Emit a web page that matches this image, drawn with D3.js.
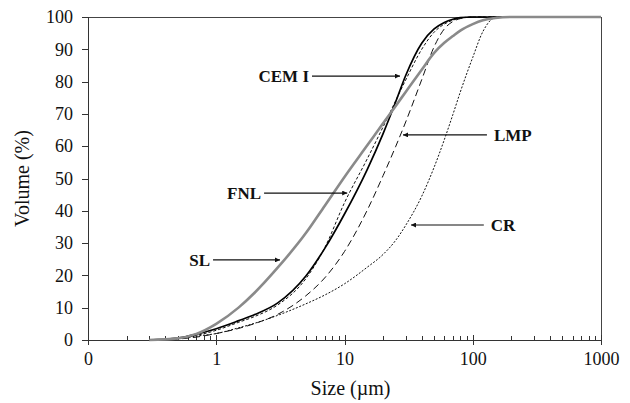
<!DOCTYPE html>
<html>
<head>
<meta charset="utf-8">
<style>
    body { margin: 0; background: #fff; }
    text { font-family: "Liberation Serif", "Times New Roman", serif; fill: #111; }
    .axis path, .axis line { stroke: #333; shape-rendering: crispEdges; }
    .curve { fill: none; }
</style>
<script src="https://d3js.org/d3.v7.min.js"></script>
</head>
<body>
<script>
    // particle size grid (um) shared by all curves
    var sizes = [0.3, 0.5, 0.7, 1, 1.5, 2, 3, 5, 7, 10, 15, 20, 25, 30, 40, 50, 60, 70, 80, 100, 120, 150, 200, 1000];

    // cumulative volume (%)
    var cemI = [0, 0.6, 1.8, 3.5, 6, 7.9, 11.4, 19.8, 28.3, 39, 52.7, 63.9, 73.6, 81.9, 91.9, 96.3, 98.3, 99.3, 99.8, 100, 100, 100, 100, 100];
    var fnl  = [0, 0.4, 1.4, 3, 5.5, 7.3, 10.8, 19, 28.5, 42.5, 56, 66, 74, 80.5, 90, 95.3, 97.8, 99, 99.7, 100, 100, 100, 100, 100];
    var lmp  = [0, 0.3, 0.9, 2, 3.6, 5.1, 7.9, 13.7, 19.2, 27.4, 40.1, 50.9, 59.8, 67.5, 80.6, 90.8, 96.3, 98.6, 99.5, 100, 100, 100, 100, 100];
    var cr   = [0, 0.4, 1.2, 2, 3.8, 5.2, 7.6, 11.2, 13.9, 17.4, 22.5, 26.5, 30.8, 35.5, 44.5, 53.5, 62, 69.8, 76.8, 87.5, 95.5, 99.8, 100, 100];
    var sl   = [0, 0.5, 1.9, 5, 10.1, 14.7, 22.3, 33.1, 41.5, 50.5, 60.2, 67.1, 72.4, 76.8, 83.7, 88.9, 92, 94.1, 95.8, 97.8, 99, 99.7, 100, 100];

    var xTicks = [0.1, 1, 10, 100, 1000];
    var xTickLabels = ["0", "1", "10", "100", "1000"];
    var yTicks = [0, 10, 20, 30, 40, 50, 60, 70, 80, 90, 100];

    // labels: text, arrow tip (size, vol), arrow tail size
    var labelNames = ["CEM I", "LMP", "FNL", "SL", "CR"];
    var tipSize = [27.1, 28.6, 10.5, 3.14, 33];
    var tipVol  = [81.7, 63.5, 45.5, 24.8, 35.6];
    var tailSize = [5.58, 129, 2.36, 0.944, 122];

    var margin = {top: 17, right: 29, bottom: 63, left: 88},
        width = 630 - margin.left - margin.right,
        height = 403 - margin.top - margin.bottom;

    var svg = d3.select("body").append("svg")
        .attr("width", 630)
        .attr("height", 403)
        .append("g")
        .attr("transform", "translate(" + margin.left + "," + margin.top + ")");

    var x = d3.scaleLog().domain([0.1, 1000]).range([0, width]);
    var y = d3.scaleLinear().domain([0, 100]).range([height, 0]);

    // frame (top and right)
    svg.append("rect")
        .attr("width", width)
        .attr("height", height)
        .attr("fill", "none")
        .attr("stroke", "#444")
        .attr("shape-rendering", "crispEdges");

    // y axis
    var yAxis = svg.append("g")
        .attr("class", "axis")
        .call(d3.axisLeft(y).tickValues(yTicks).tickSize(6).tickPadding(9));
    yAxis.selectAll("text").style("font-size", "18px");

    // x axis: major ticks cross the line, minor ticks point inwards
    var minor = [];
    for (var d = 0.1; d < 1000; d *= 10) {
        for (var k = 2; k <= 9; k++) minor.push(d * k);
    }
    svg.append("g")
        .attr("class", "axis")
        .attr("transform", "translate(0," + height + ")")
        .call(d3.axisBottom(x).tickValues(minor).tickSize(-4).tickFormat(""))
        .select(".domain").remove();
    var xAxis = svg.append("g")
        .attr("class", "axis")
        .attr("transform", "translate(0," + height + ")")
        .call(d3.axisBottom(x).tickValues(xTicks).tickSize(5).tickPadding(7)
            .tickFormat(function(d, i) { return xTickLabels[i]; }));
    xAxis.selectAll(".tick line").attr("y1", -5);
    xAxis.selectAll("text").style("font-size", "18px");

    // axis titles
    svg.append("text")
        .attr("x", width / 2 + 6)
        .attr("y", height + 55)
        .style("text-anchor", "middle")
        .style("font-size", "20px")
        .text("Size (µm)");
    svg.append("text")
        .attr("transform", "rotate(-90)")
        .attr("x", -(height / 2))
        .attr("y", -margin.left + 29)
        .style("text-anchor", "middle")
        .style("font-size", "20px")
        .text("Volume (%)");

    var line = d3.line()
        .x(function(d) { return x(d[0]); })
        .y(function(d) { return y(d[1]); })
        .curve(d3.curveMonotoneX);

    function pts(vals) {
        return sizes.map(function(s, i) { return [s, vals[i]]; });
    }

    var series = [
        {vals: cr,   stroke: "#111", w: 1,   dash: "2,1.6"},
        {vals: lmp,  stroke: "#111", w: 1,   dash: "7,4"},
        {vals: fnl,  stroke: "#111", w: 1,   dash: "3,2"},
        {vals: cemI, stroke: "#000", w: 1.7, dash: null},
        {vals: sl,   stroke: "#8a8a8a", w: 2.6, dash: null}
    ];

    svg.selectAll(".curve")
        .data(series)
        .enter()
        .append("path")
        .attr("class", "curve")
        .attr("d", function(d) { return line(pts(d.vals)); })
        .attr("stroke", function(d) { return d.stroke; })
        .attr("stroke-width", function(d) { return d.w; })
        .attr("stroke-dasharray", function(d) { return d.dash; });

    // arrow marker
    svg.append("defs").append("marker")
        .attr("id", "arr")
        .attr("viewBox", "0 0 10 10")
        .attr("refX", 10)
        .attr("refY", 5)
        .attr("markerWidth", 7)
        .attr("markerHeight", 5)
        .attr("markerUnits", "userSpaceOnUse")
        .attr("orient", "auto")
        .append("path")
        .attr("d", "M0,0L10,5L0,10z")
        .attr("fill", "#111");

    labelNames.forEach(function(name, i) {
        var tx = x(tipSize[i]), ty = y(tipVol[i]), sx = x(tailSize[i]);
        svg.append("line")
            .attr("x1", sx).attr("y1", ty)
            .attr("x2", tx).attr("y2", ty)
            .attr("stroke", "#111")
            .attr("stroke-width", 1.2)
            .attr("marker-end", "url(#arr)");
        var right = sx > tx;
        svg.append("text")
            .attr("x", right ? sx + 7 : sx - 3)
            .attr("y", ty + 6)
            .style("text-anchor", right ? "start" : "end")
            .style("font-size", "17px")
            .style("font-weight", "bold")
            .text(name);
    });
</script>
</body>
</html>
